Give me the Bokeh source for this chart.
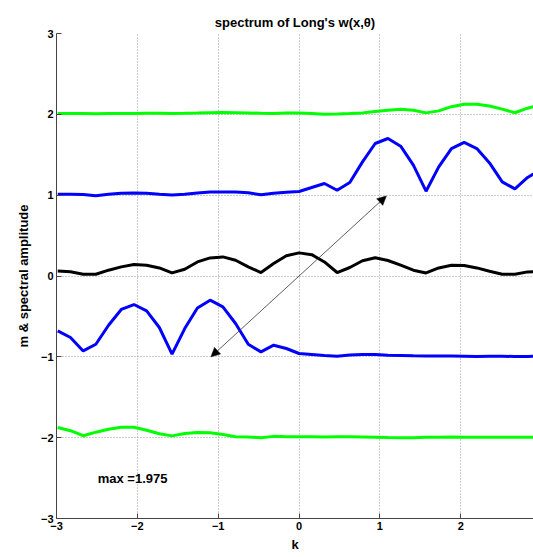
from bokeh.plotting import figure
from bokeh.models import Range1d, FixedTicker, Arrow, NormalHead, Label
from bokeh.embed import file_html
from bokeh.resources import INLINE

# wavenumbers k (step pi/20)
k = [-2.985, -2.827, -2.670, -2.513, -2.356, -2.199, -2.042, -1.885, -1.728, -1.571,
     -1.414, -1.257, -1.100, -0.942, -0.785, -0.628, -0.471, -0.314, -0.157, 0.0,
     0.157, 0.314, 0.471, 0.628, 0.785, 0.942, 1.100, 1.257, 1.414, 1.571,
     1.728, 1.885, 2.042, 2.199, 2.356, 2.513, 2.670, 2.827, 2.985]

green_hi = [2.010, 2.010, 2.010, 2.008, 2.010, 2.010, 2.010, 2.012, 2.012, 2.010,
            2.012, 2.015, 2.020, 2.022, 2.020, 2.018, 2.012, 2.010, 2.015, 2.015,
            2.010, 2.002, 2.005, 2.010, 2.018, 2.036, 2.051, 2.064, 2.051, 2.018,
            2.043, 2.095, 2.125, 2.125, 2.104, 2.064, 2.020, 2.076, 2.120]

blue_hi = [1.012, 1.012, 1.008, 0.992, 1.010, 1.025, 1.028, 1.025, 1.012, 1.003,
           1.010, 1.028, 1.038, 1.040, 1.038, 1.030, 1.005, 1.025, 1.035, 1.045,
           1.095, 1.144, 1.061, 1.157, 1.412, 1.639, 1.701, 1.606, 1.371, 1.049,
           1.350, 1.577, 1.652, 1.577, 1.399, 1.164, 1.078, 1.219, 1.310]

black_mid = [0.063, 0.052, 0.022, 0.022, 0.072, 0.113, 0.142, 0.134, 0.100, 0.038,
             0.084, 0.174, 0.224, 0.236, 0.195, 0.113, 0.043, 0.155, 0.251, 0.286,
             0.264, 0.174, 0.043, 0.105, 0.189, 0.226, 0.192, 0.134, 0.072, 0.038,
             0.100, 0.134, 0.130, 0.100, 0.059, 0.022, 0.022, 0.051, 0.055]

blue_lo = [-0.679, -0.761, -0.927, -0.844, -0.609, -0.414, -0.353, -0.432, -0.637, -0.967,
           -0.650, -0.395, -0.299, -0.382, -0.588, -0.844, -0.939, -0.856, -0.897, -0.959,
           -0.971, -0.984, -0.992, -0.976, -0.971, -0.971, -0.980, -0.984, -0.988, -0.990,
           -0.990, -0.990, -0.992, -0.996, -0.994, -0.992, -0.996, -0.996, -0.990]

green_lo = [-1.874, -1.914, -1.976, -1.932, -1.895, -1.871, -1.871, -1.908, -1.951, -1.978,
            -1.949, -1.936, -1.939, -1.961, -1.988, -1.991, -2.000, -1.984, -1.988, -1.990,
            -1.990, -1.992, -1.990, -1.990, -1.992, -1.995, -1.998, -2.000, -2.000, -1.996,
            -1.994, -1.993, -1.994, -1.996, -1.995, -1.995, -1.994, -1.994, -1.994]

x_ticks = [-3, -2, -1, 0, 1, 2]
y_ticks = [-3, -2, -1, 0, 1, 2, 3]

arrow_k = [-1.09, 1.08]
arrow_y = [-1.00, 0.99]

note_text = "max =1.975"
note_k = -2.49
note_y = -2.51

FONT = "Liberation Sans"

p = figure(width=533, height=557, output_backend="svg", toolbar_location=None,
           x_range=Range1d(-3, 2.90), y_range=Range1d(-3, 3),
           min_border_left=56, min_border_right=0, min_border_top=33, min_border_bottom=39,
           title="spectrum of Long's w(x,\u03b8)")

p.title.align = "center"
p.title.text_font = FONT
p.title.text_font_size = "13px"
p.title.text_font_style = "bold"
p.title.text_color = "black"
p.title.standoff = 8
p.outline_line_color = None
p.background_fill_color = "white"
p.border_fill_color = "white"

for ax in (p.xaxis[0], p.yaxis[0]):
    ax.major_tick_in = 5
    ax.major_tick_out = 0
    ax.minor_tick_line_color = None
    ax.axis_line_color = "#444444"
    ax.major_tick_line_color = "#444444"
    ax.major_label_text_font = FONT
    ax.major_label_text_font_size = "11px"
    ax.major_label_text_font_style = "bold"
    ax.major_label_text_color = "black"
    ax.axis_label_text_font = FONT
    ax.axis_label_text_font_size = "13px"
    ax.axis_label_text_font_style = "bold"
    ax.axis_label_text_color = "black"
    ax.major_label_standoff = 3

p.xaxis.ticker = FixedTicker(ticks=x_ticks)
p.yaxis.ticker = FixedTicker(ticks=y_ticks)
p.xaxis.axis_label = "k"
p.yaxis.axis_label = "m & spectral amplitude"
p.xaxis.axis_label_standoff = 4
p.yaxis.axis_label_standoff = 7

p.xgrid.ticker = FixedTicker(ticks=x_ticks)
p.ygrid.ticker = FixedTicker(ticks=y_ticks)
for g in (p.xgrid[0], p.ygrid[0]):
    g.grid_line_color = "#9a9a9a"
    g.grid_line_dash = "1 2"
    g.grid_line_width = 1

p.line(k, green_hi, line_color="#00ff00", line_width=3)
p.line(k, blue_hi, line_color="#0000ff", line_width=3)
p.line(k, black_mid, line_color="#000000", line_width=3)
p.line(k, blue_lo, line_color="#0000ff", line_width=3)
p.line(k, green_lo, line_color="#00ff00", line_width=3)

p.add_layout(Arrow(x_start=arrow_k[0], y_start=arrow_y[0], x_end=arrow_k[1], y_end=arrow_y[1],
                   line_color="#333333", line_width=0.8,
                   start=NormalHead(size=9, fill_color="black", line_color="black", line_width=0.5),
                   end=NormalHead(size=9, fill_color="black", line_color="black", line_width=0.5)))

p.add_layout(Label(x=note_k, y=note_y, text=note_text, text_font=FONT, text_font_size="13px",
                   text_font_style="bold", text_baseline="middle", text_color="black"))

open("out.html", "w").write(file_html(p, INLINE))
